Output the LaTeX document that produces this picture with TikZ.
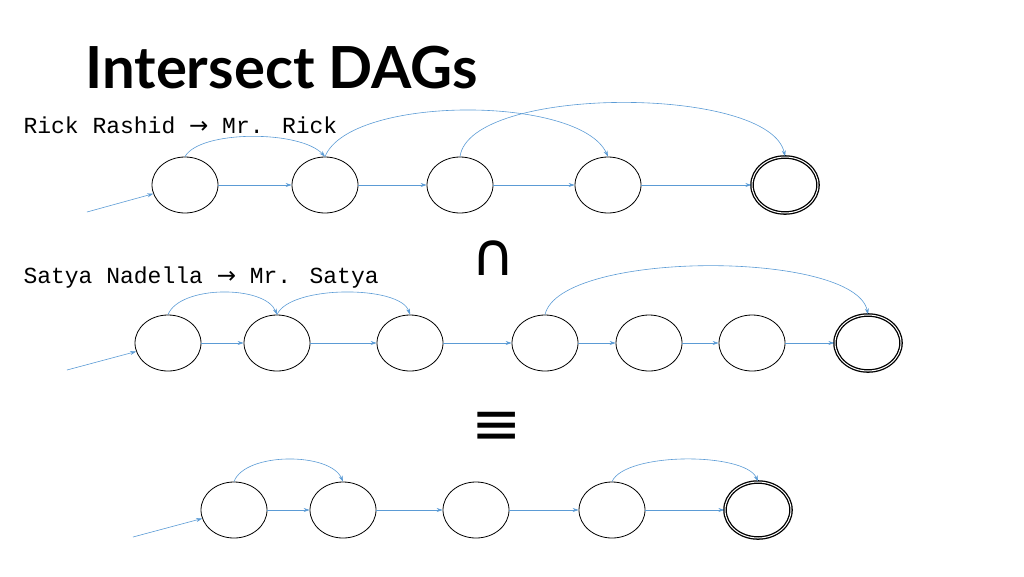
\documentclass[tikz,border=0pt]{standalone}
\usepackage{fontspec}
\setmainfont{Lato}
\newfontfamily\monof{Liberation Mono}
\newfontfamily\symf{DejaVu Sans}
\usetikzlibrary{arrows.meta,shapes.geometric}
\definecolor{arr}{RGB}{91,155,213}
\begin{document}
\begin{tikzpicture}[x=1pt,y=-1pt,
  st/.style={draw,ellipse,minimum width=66pt,minimum height=56pt,line width=0.8pt,inner sep=0pt},
  fin/.style={st,double,double distance=1pt,line width=1.3pt},
  ed/.style={draw=arr,line width=0.6pt,-{Stealth[length=6pt,width=4pt]}},
  lab/.style={anchor=base west,font=\monof\fontsize{23}{26}\selectfont}]
\useasboundingbox (0,0) rectangle (1024,576);
\node[anchor=base west,font=\bfseries\fontsize{58}{64}\selectfont] (title) at (82,88) {Intersect DAGs};
\node[lab] (l1) at (20,133) {Rick Rashid {\symf→} Mr. Rick};
\node[lab] (l2) at (20,283) {Satya Nadella {\symf→} Mr. Satya};
\node[font=\symf\fontsize{60}{60}\selectfont] (cap) at (493,258) {∩};
\node[font=\symf\fontsize{60}{60}\selectfont] (eqv) at (497,428) {≡};
% row 1
\foreach \n/\x in {a1/185,a2/325,a3/460,a4/608}{\node[st] (\n) at (\x,185) {};}
\node[fin] (a5) at (785,185) {};
\coordinate (sa) at (87,212);
\draw[ed] (sa) -- (a1);
\foreach \p/\q in {a1/a2,a2/a3,a3/a4,a4/a5}{\draw[ed] (\p) -- (\q);}
\draw[ed] (a1.north) .. controls (200,130) and (300,130) .. (a2.north);
\draw[ed] (a2.north) .. controls (350,95) and (580,95) .. (a4.north);
\draw[ed] (a3.north) .. controls (470,85) and (770,85) .. (a5.north);
% row 2
\foreach \n/\x in {b1/168,b2/277,b3/410,b4/545,b5/649,b6/752}{\node[st] (\n) at (\x,343) {};}
\node[fin] (b7) at (868,343) {};
\coordinate (sb) at (67,370);
\draw[ed] (sb) -- (b1);
\foreach \p/\q in {b1/b2,b2/b3,b3/b4,b4/b5,b5/b6,b6/b7}{\draw[ed] (\p) -- (\q);}
\draw[ed] (b1.north) .. controls (180,285) and (265,285) .. (b2.north);
\draw[ed] (b2.north) .. controls (290,285) and (400,285) .. (b3.north);
\draw[ed] (b4.north) .. controls (560,250) and (855,250) .. (b7.north);
% row 3
\foreach \n/\x in {c1/234,c2/343,c3/476,c4/612}{\node[st] (\n) at (\x,510) {};}
\node[fin] (c5) at (758,510) {};
\coordinate (sc) at (133,537);
\draw[ed] (sc) -- (c1);
\foreach \p/\q in {c1/c2,c2/c3,c3/c4,c4/c5}{\draw[ed] (\p) -- (\q);}
\draw[ed] (c1.north) .. controls (245,452) and (330,452) .. (c2.north);
\draw[ed] (c4.north) .. controls (625,452) and (745,452) .. (c5.north);
\end{tikzpicture}
\end{document}
